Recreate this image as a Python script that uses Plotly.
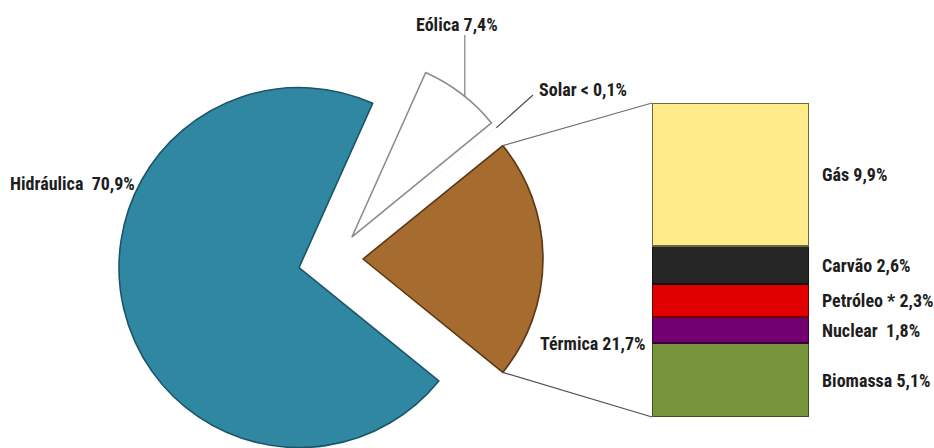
import math
import plotly.graph_objects as go

# Electricity generation mix (%)
pie_labels = ["Térmica", "Solar", "Eólica", "Hidráulica"]
pie_values = [21.7, 0.05, 7.4, 70.9]
pie_text = ["Térmica 21,7%", "Solar < 0,1%", "Eólica 7,4%", "Hidráulica  70,9%"]

# Breakdown of the thermal share, bottom to top
bar_labels = ["Biomassa", "Nuclear", "Petróleo *", "Carvão", "Gás"]
bar_values = [5.1, 1.8, 2.3, 2.6, 9.9]
bar_text = ["Biomassa 5,1%", "Nuclear  1,8%", "Petróleo * 2,3%", "Carvão 2,6%", "Gás 9,9%"]

W, H = 934, 448
FONT = "Liberation Sans Narrow, Arial Narrow, Roboto Condensed, Liberation Sans, Arial, sans-serif"
TXT = "#1e1e1e"

pie_fill = ["#A66B2E", "#EDEDED", "#FFFFFF", "#2F87A2"]
pie_edge = ["#5A3814", "rgba(0,0,0,0)", "#8C8C8C", "#1C5568"]
edge_w = [1.6, 0, 1.6, 1.6]
pull_px = [28, 28, 28, 37]

# pie geometry (pixels)
R = 180
base_cx, base_cy = 335, 259

total = sum(pie_values)
start = -pie_values[0] / total * 180.0           # thermal slice faces the bar
angles = []
a = start
for v in pie_values:
    span = v / total * 360.0
    angles.append((a, a + span))
    a += span
# plotly (counterclockwise): the first slice ends at `rotation`, measured clockwise from 12 o'clock
rotation = 90 - angles[0][1]

fig = go.Figure()

centers = []
for i, (a0, a1) in enumerate(angles):
    mid = math.radians((a0 + a1) / 2)
    cx = base_cx + pull_px[i] * math.cos(mid)
    cy = base_cy - pull_px[i] * math.sin(mid)
    centers.append((cx, cy))
    x0 = max(0.0, (cx - R) / W)
    x1 = min(1.0, (cx + R) / W)
    y0 = max(0.0, (H - (cy + R)) / H)
    y1 = min(1.0, (H - (cy - R)) / H)
    colors = ["rgba(0,0,0,0)"] * len(pie_values)
    edges = ["rgba(0,0,0,0)"] * len(pie_values)
    widths = [0] * len(pie_values)
    colors[i] = pie_fill[i]
    edges[i] = pie_edge[i]
    widths[i] = edge_w[i]
    fig.add_trace(go.Pie(
        labels=pie_labels, values=pie_values, sort=False,
        direction="counterclockwise", rotation=rotation,
        marker=dict(colors=colors, line=dict(color=edges, width=widths)),
        textinfo="none", hoverinfo="label+percent", showlegend=False,
        domain=dict(x=[x0, x1], y=[y0, y1]),
    ))

# stacked bar for the thermal breakdown
bar_fill = ["#77933C", "#720072", "#E00000", "#262626", "#FFEB8A"]
bar_edge = ["#3F5020", "#3A003A", "#6E0000", "#111111", "#6E6538"]
for lab, val, fc, ec in zip(bar_labels, bar_values, bar_fill, bar_edge):
    fig.add_trace(go.Bar(
        x=[0], y=[val], name=lab, width=1.0,
        marker=dict(color=fc, line=dict(color=ec, width=2)),
        showlegend=False, hoverinfo="name+y",
    ))

bar_left, bar_right, bar_top, bar_bottom = 652, 809, 103, 417
fig.update_layout(
    width=W, height=H,
    margin=dict(l=0, r=0, t=0, b=0, pad=0),
    paper_bgcolor="white", plot_bgcolor="white",
    barmode="stack", bargap=0,
    font=dict(family=FONT, size=18, color=TXT),
    xaxis=dict(domain=[bar_left / W, bar_right / W], range=[-0.5, 0.5],
               visible=False, fixedrange=True),
    yaxis=dict(domain=[(H - bar_bottom) / H, (H - bar_top) / H],
               range=[0, sum(bar_values)], visible=False, fixedrange=True),
)

# labels of the bar segments
cum = 0.0
for txt, val in zip(bar_text, bar_values):
    fig.add_annotation(x=820 / W, xref="paper", y=cum + val / 2, yref="y",
                       text=f"<b>{txt}</b>", showarrow=False,
                       xanchor="left", yanchor="middle")
    cum += val

def arc_point(i, ang):
    cx, cy = centers[i]
    t = math.radians(ang)
    return cx + R * math.cos(t), cy - R * math.sin(t)

def add_line(p, q, color="#7F7F7F", width=1.2):
    fig.add_shape(type="line", xref="paper", yref="paper",
                  x0=p[0] / W, y0=(H - p[1]) / H, x1=q[0] / W, y1=(H - q[1]) / H,
                  line=dict(color=color, width=width))

def add_label(txt, x, y, anchor="center"):
    fig.add_annotation(x=x / W, y=(H - y) / H, xref="paper", yref="paper",
                       text=f"<b>{txt}</b>", showarrow=False,
                       xanchor=anchor, yanchor="middle")

# connectors from the thermal slice to the bar
t0, t1 = angles[0]
add_line(arc_point(0, t1), (bar_left, bar_top), "#6F6F6F", 1.2)
add_line(arc_point(0, t0), (bar_left, bar_bottom), "#4F4F4F", 1.2)

# leader lines
e_pt = arc_point(2, angles[2][0] + 0.45 * (angles[2][1] - angles[2][0]))
add_line(e_pt, (e_pt[0], 35), "#7F7F7F", 1.2)
s_pt = arc_point(1, (angles[1][0] + angles[1][1]) / 2)
add_line(s_pt, (533, 95), "#4F4F4F", 1.2)

add_label(pie_text[2], 457, 25)
add_label(pie_text[1], 537, 89, "left")
add_label(pie_text[3], 8, 183, "left")
add_label(pie_text[0], 538, 343, "left")

fig.write_html("out.html")
